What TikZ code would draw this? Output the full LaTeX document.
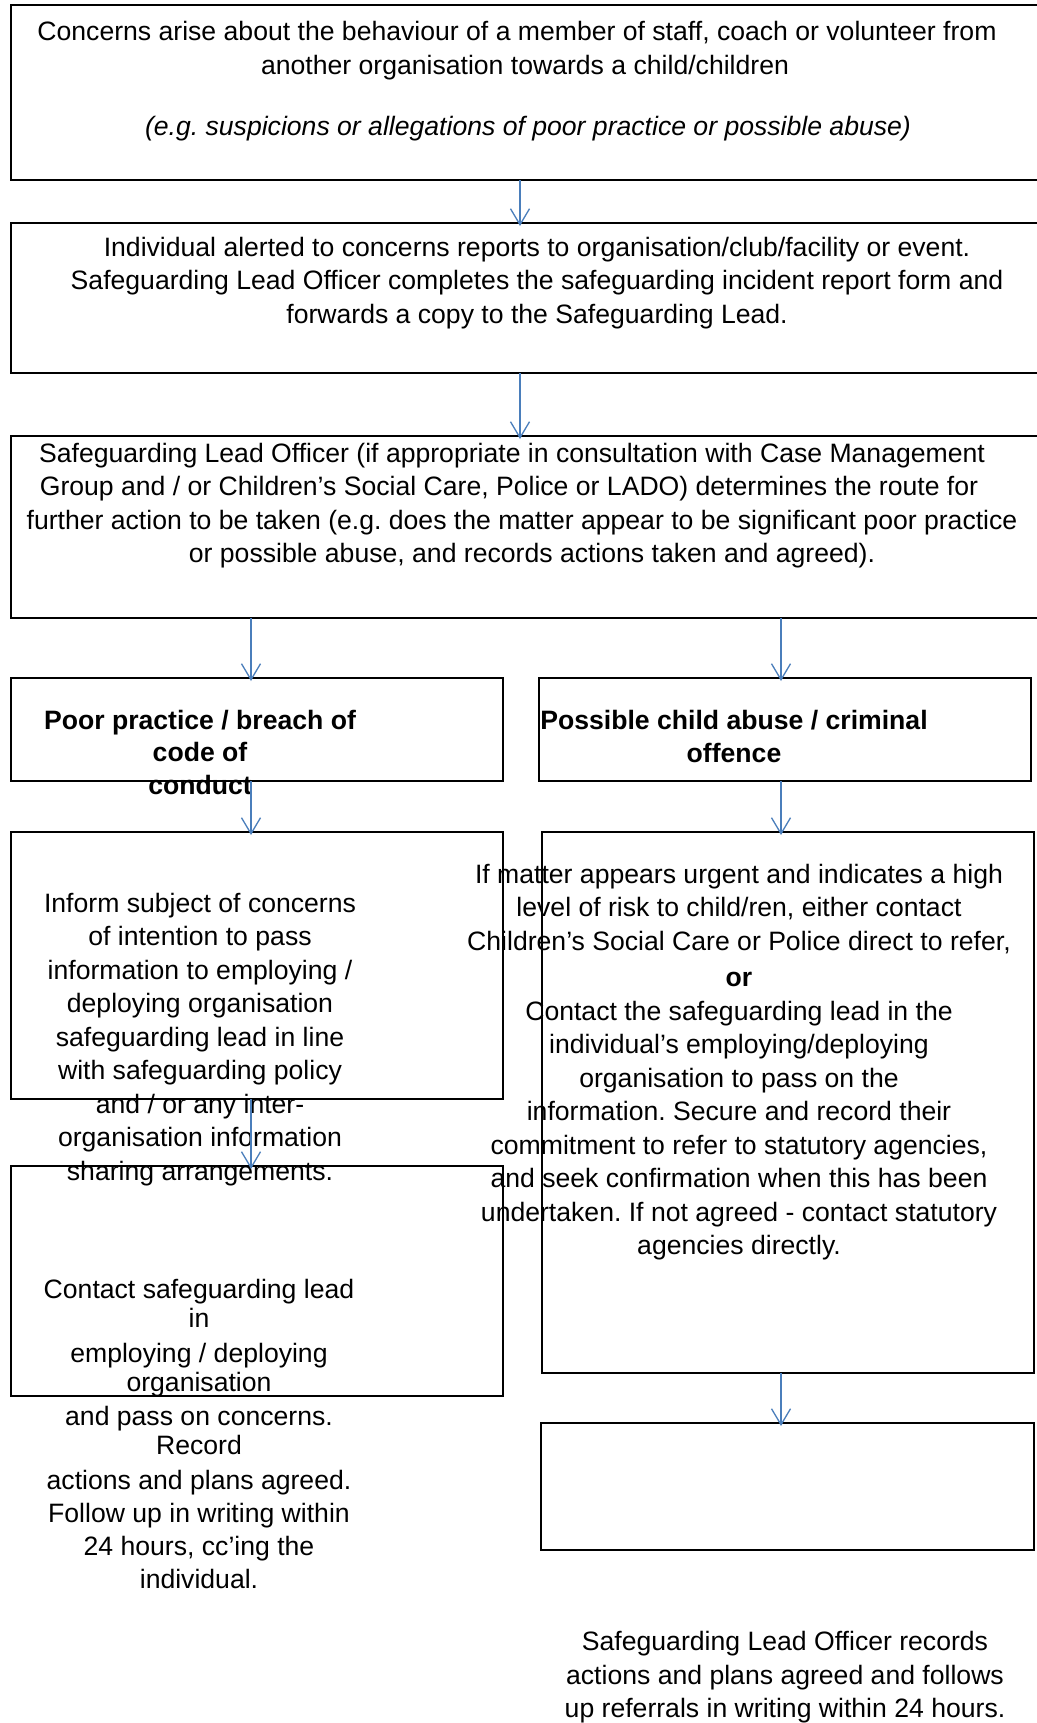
\documentclass[tikz,border=0pt]{standalone}
\usepackage{fontspec}
\setmainfont{Liberation Sans}
\usetikzlibrary{arrows.meta,fit}

\definecolor{flowblue}{RGB}{74,126,187}
\tikzset{
  box/.style={draw=black, line width=0.75pt, inner sep=0pt, outer sep=0pt},
  txt/.style={inner sep=0pt, anchor=base, font=\fontsize{13.3pt}{16.75pt}\selectfont\frenchspacing},
  flow/.style={draw=flowblue, line width=0.65pt, shorten >=-1.5pt,
    -{Straight Barb[length=8pt,width=9.5pt]}}
}

\begin{document}
\begin{tikzpicture}[x=0.5pt,y=-0.5pt]
\path[use as bounding box, fill=white] (0,0) rectangle (1037,1723);

% the boxes
\node[box, fit={(11,5) (1045,180)}] (concern) {};
\node[box, fit={(11,223) (1045,373)}] (report) {};
\node[box, fit={(11,436) (1045,618)}] (route) {};
\node[box, fit={(11,678) (503,781)}] (poor) {};
\node[box, fit={(539,678) (1031,781)}] (abuse) {};
\node[box, fit={(11,832) (503,1099)}] (inform) {};
\node[box, fit={(11,1166) (503,1396)}] (contact) {};
\node[box, fit={(542,832) (1034,1373)}] (urgent) {};
\node[box, fit={(541,1423) (1034,1550)}] (records) {};

% the texts
\foreach \x/\y/\words [count=\i] in {517/41/{Concerns arise about the behaviour of a member of staff, coach or volunteer from},
    525/75/{another organisation towards a child/children},
    528/135/{\itshape (e.g. suspicions or allegations of poor practice or possible abuse)}}
    {\node[txt] (concernline\i) at (\x,\y) {\words};};

\foreach \words [count=\i from 0] in {{Individual alerted to concerns reports to organisation/club/facility or event.},
    {Safeguarding Lead Officer completes the safeguarding incident report form and},
    {forwards a copy to the Safeguarding Lead.}}
    {\node[txt] (reportline\i) at (537,{256+33.5*\i}) {\words};};

\foreach \x/\y/\words [count=\i] in {512/462/{Safeguarding Lead Officer (if appropriate in consultation with Case Management},
    509/495.5/{Group and / or Children’s Social Care, Police or LADO) determines the route for},
    522/529/{further action to be taken (e.g. does the matter appear to be significant poor practice},
    532/562.5/{or possible abuse, and records actions taken and agreed).}}
    {\node[txt] (routeline\i) at (\x,\y) {\words};};

\foreach \words [count=\i from 0] in {{Poor practice / breach of}, {code of}, {conduct}}
    {\node[txt] (poorline\i) at (200,{729+32.5*\i}) {\bfseries\words};};

\foreach \words [count=\i from 0] in {{Possible child abuse / criminal}, {offence}}
    {\node[txt] (abuseline\i) at (734,{729+33.5*\i}) {\bfseries\words};};

\foreach \words [count=\i from 0] in {{Inform subject of concerns}, {of intention to pass},
    {information to employing /}, {deploying organisation}, {safeguarding lead in line},
    {with safeguarding policy}, {and / or any inter-}, {organisation information},
    {sharing arrangements.}}
    {\node[txt] (informline\i) at (200,{912+33.5*\i}) {\words};};

\foreach \y/\words [count=\i] in {1298/{Contact safeguarding lead}, 1327/{in},
    1362/{employing / deploying}, 1391/{organisation}, 1425/{and pass on concerns.},
    1454/{Record}, 1489/{actions and plans agreed.}, 1522/{Follow up in writing within},
    1555/{24 hours, cc’ing the}, 1588/{individual.}}
    {\node[txt] (contactline\i) at (199,\y) {\words};};

\foreach \y/\words [count=\i] in {883/{If matter appears urgent and indicates a high},
    916.5/{level of risk to child/ren, either contact},
    950/{Children’s Social Care or Police direct to refer,},
    986/{\bfseries or},
    1020/{Contact the safeguarding lead in the},
    1053.5/{individual’s employing/deploying},
    1087/{organisation to pass on the},
    1120.5/{information. Secure and record their},
    1154/{commitment to refer to statutory agencies,},
    1187.5/{and seek confirmation when this has been},
    1221/{undertaken. If not agreed - contact statutory},
    1254.5/{agencies directly.}}
    {\node[txt] (urgentline\i) at (739,\y) {\words};};

\foreach \words [count=\i from 0] in {{Safeguarding Lead Officer records},
    {actions and plans agreed and follows}, {up referrals in writing within 24 hours.}}
    {\node[txt] (recordsline\i) at (785,{1650.5+33.5*\i}) {\words};};

% the arrows
\coordinate (mid) at (520,0);
\coordinate (lcol) at (251,0);
\coordinate (rcol) at (781,0);
\draw[flow] (concern.south -| mid) -- (report.north -| mid);
\draw[flow] (report.south -| mid) -- (route.north -| mid);
\draw[flow] (route.south -| lcol) -- (poor.north -| lcol);
\draw[flow] (route.south -| rcol) -- (abuse.north -| rcol);
\draw[flow] (poor.south -| lcol) -- (inform.north -| lcol);
\draw[flow] (abuse.south -| rcol) -- (urgent.north -| rcol);
\draw[flow] (inform.south -| lcol) -- (contact.north -| lcol);
\draw[flow] (urgent.south -| rcol) -- (records.north -| rcol);
\end{tikzpicture}
\end{document}
